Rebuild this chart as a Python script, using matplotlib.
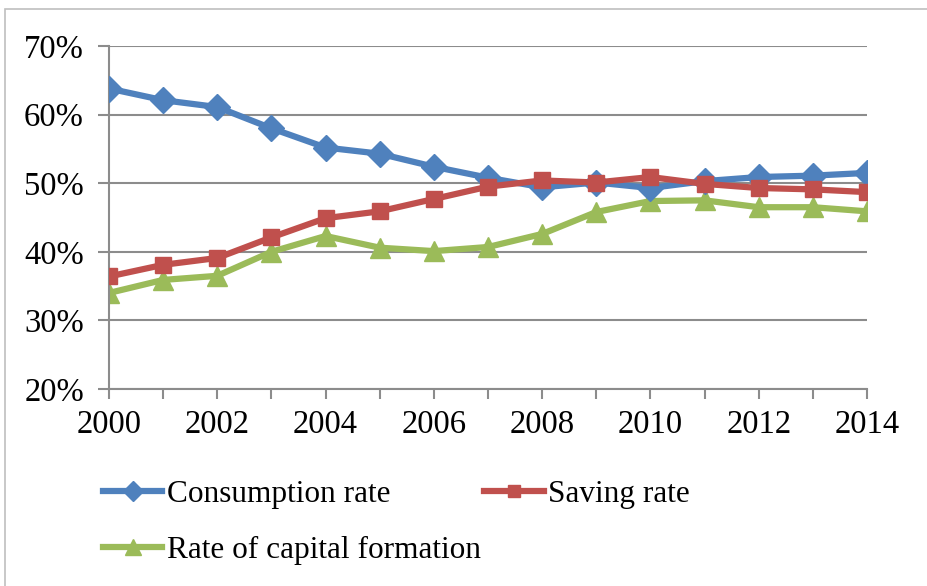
import matplotlib
matplotlib.use("Agg")
import matplotlib.pyplot as plt
from matplotlib.patches import Rectangle
from matplotlib.ticker import FuncFormatter, MultipleLocator

# ---------------------------------------------------------------
# Data (in percent)
# ---------------------------------------------------------------
years = list(range(2000, 2015))
consumption_rate = [63.8, 62.1, 61.1, 58.0, 55.2, 54.3, 52.4, 50.8, 49.4,
                    50.1, 49.3, 50.3, 50.9, 51.1, 51.5]
saving_rate = [36.4, 38.1, 39.1, 42.1, 44.9, 45.9, 47.7, 49.5, 50.4,
               50.1, 50.9, 49.9, 49.3, 49.1, 48.7]
capital_formation = [34.0, 35.9, 36.5, 40.0, 42.3, 40.6, 40.1, 40.7, 42.6,
                     45.8, 47.4, 47.5, 46.5, 46.5, 45.9]
labels = ["Consumption rate", "Saving rate", "Rate of capital formation"]

BLUE = "#4F81BD"
RED = "#C0504D"
GREEN = "#9BBB59"
GRID = "#8C8C8C"

plt.rcParams["font.family"] = ["Liberation Serif", "DejaVu Serif"]

fig = plt.figure(figsize=(9.28, 5.86), dpi=100)
ax = fig.add_axes([109 / 928, 1 - 389 / 586, (867 - 109) / 928, (389 - 46) / 586])

# light outer frame of the chart area
fig.patches.append(Rectangle((5 / 928, -0.05), 1.0, 1.05 - 9 / 586,
                             transform=fig.transFigure, fill=False,
                             edgecolor="#BFBFBF", linewidth=1.2))

l1, = ax.plot(years, consumption_rate, color=BLUE, lw=4.5, marker="D",
              markersize=13, zorder=3)
l2, = ax.plot(years, saving_rate, color=RED, lw=4.5, marker="s",
              markersize=12, zorder=4)
l3, = ax.plot(years, capital_formation, color=GREEN, lw=4.5, marker="^",
              markersize=15, zorder=2)

ax.set_xlim(2000, 2014)
ax.set_ylim(20, 70)
ax.yaxis.set_major_locator(MultipleLocator(10))
ax.yaxis.set_major_formatter(FuncFormatter(lambda v, p: f"{v:.0f}%"))
ax.xaxis.set_major_locator(MultipleLocator(2))
ax.xaxis.set_minor_locator(MultipleLocator(1))

ax.grid(axis="y", color=GRID, linewidth=1.5, zorder=0)
ax.set_axisbelow(True)
for side in ["top", "right"]:
    ax.spines[side].set_visible(False)
for side in ["left", "bottom"]:
    ax.spines[side].set_color(GRID)
    ax.spines[side].set_linewidth(1.5)

ax.tick_params(axis="y", which="major", length=8, width=1.5, color=GRID,
               labelsize=23.5, pad=10)
ax.tick_params(axis="x", which="both", length=7, width=1.5, color=GRID,
               labelsize=23.5, pad=8)
for lbl in ax.get_xticklabels():
    lbl.set_clip_on(False)

# legend laid out row-wise: Consumption / Saving, then Capital formation
fig.legend([l1, l3, l2], [labels[0], labels[2], labels[1]], ncol=2,
           loc="upper left", bbox_to_anchor=(103 / 928, 1 - 480 / 586),
           frameon=False, fontsize=22.5, handlelength=1.9, handletextpad=0.15,
           columnspacing=0.1, labelspacing=0.86, markerscale=0.75,
           borderpad=0, borderaxespad=0)

fig.savefig("out.png", dpi=100)
